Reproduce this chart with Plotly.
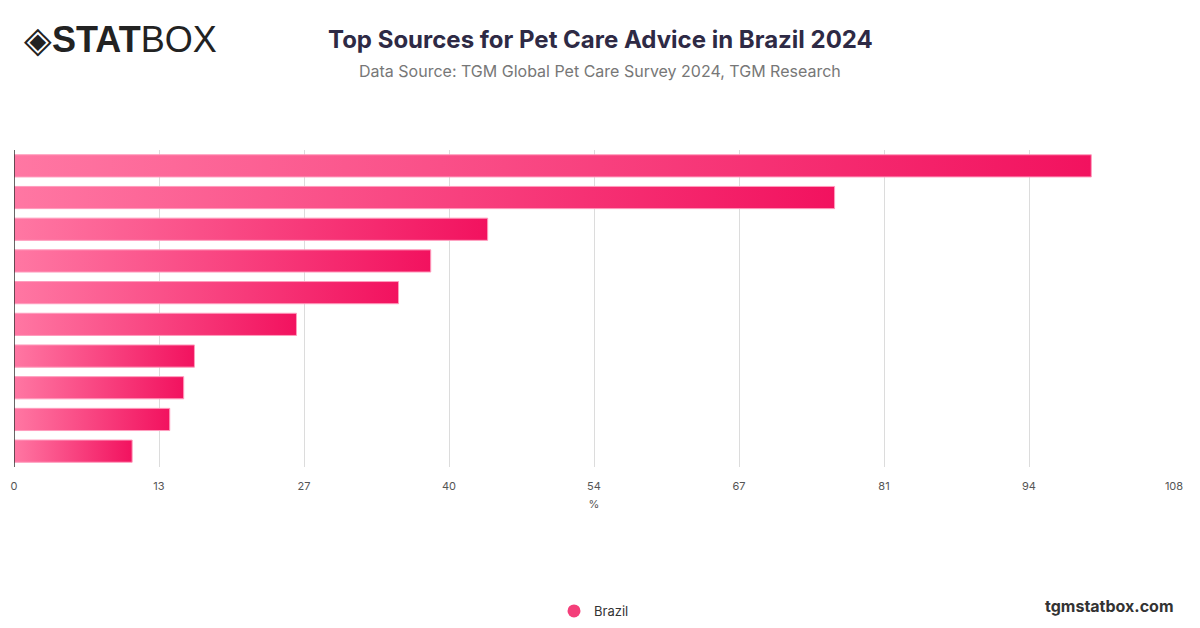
import plotly.graph_objects as go

categories = [f"Source {i}" for i in range(1, 11)]
values = [100.3, 76.4, 44.1, 38.8, 35.8, 26.3, 16.8, 15.8, 14.5, 11.0]
tick_vals = [0, 13.5, 27, 40.5, 54, 67.5, 81, 94.5, 108]
tick_text = ["0", "13", "27", "40", "54", "67", "81", "94", "108"]
series_name = "Brazil"

fig = go.Figure()
n = len(values)
h = 0.35
for i, v in enumerate(values):
    yc = n - 1 - i
    fig.add_trace(go.Scatter(
        x=[0, v, v, 0, 0], y=[yc - h, yc - h, yc + h, yc + h, yc - h],
        mode="lines", fill="toself", line=dict(color="#ff9cbd", width=1),
        fillgradient=dict(type="horizontal", colorscale=[[0, "#ff77a3"], [1, "#f2125f"]]),
        showlegend=False, hoverinfo="text", text=f"{categories[i]}: {v}%"))
fig.add_trace(go.Scatter(x=[None], y=[None], mode="markers", name=series_name,
                         marker=dict(size=13, color="#f43f7a")))

OFF = 8  # page body offset
H = 628; top = 150 - OFF; bot = 628 - (467 - OFF); L = 14 - OFF; R = 26 + OFF
ph = H - top - bot
def py(px):
    return (H - bot - (px - OFF)) / ph
def pxx(px):
    return ((px - OFF) - L) / (1200 - L - R)

fig.update_layout(
    width=1200, height=628, paper_bgcolor="white", plot_bgcolor="white",
    margin=dict(l=L, r=R, t=top, b=bot, autoexpand=False),
    font=dict(family="Inter, Roboto, sans-serif", color="#555"),
    xaxis=dict(range=[0, 108], tickvals=tick_vals, ticktext=tick_text, showgrid=True,
               gridcolor="#dcdcdc", zeroline=False, showline=False, automargin=False,
               ticks="outside", ticklen=9, tickcolor="rgba(0,0,0,0)",
               tickfont=dict(size=11, color="#555"),
               title=dict(text="%", font=dict(size=11, color="#555"), standoff=8)),
    yaxis=dict(range=[-0.5, n - 0.5], showticklabels=False, showgrid=False, zeroline=False,
               showline=False, automargin=False),
    showlegend=True,
    legend=dict(orientation="h", x=0.5, xanchor="center", y=py(611), yanchor="middle",
                font=dict(size=13, color="#333")),
    shapes=[dict(type="line", xref="x", yref="paper", x0=0, x1=0, y0=0, y1=1,
                 line=dict(color="#333", width=1.5))],
    annotations=[
        dict(text="<b>Top Sources for Pet Care Advice in Brazil 2024</b>", x=pxx(600), y=py(40),
             xanchor="center", yanchor="middle",
             xref="paper", yref="paper", showarrow=False, font=dict(size=24, color="#2e2a45")),
        dict(text="Data Source: TGM Global Pet Care Survey 2024, TGM Research", x=pxx(600), y=py(71),
             xanchor="center", yanchor="middle",
             xref="paper", yref="paper", showarrow=False, font=dict(size=16, color="#777")),
        dict(text="<b>tgmstatbox.com</b>", x=pxx(1176), y=py(606), xanchor="right", yanchor="middle",
             xref="paper", yref="paper", showarrow=False, font=dict(size=16, color="#333")),
        dict(text="◈<b>STAT</b>BOX", x=pxx(22), y=py(40), xanchor="left", yanchor="middle",
             xref="paper", yref="paper", showarrow=False,
             font=dict(size=36, color="#222", family="Liberation Sans, Arial")),
    ],
)
fig.write_html("out.html")
